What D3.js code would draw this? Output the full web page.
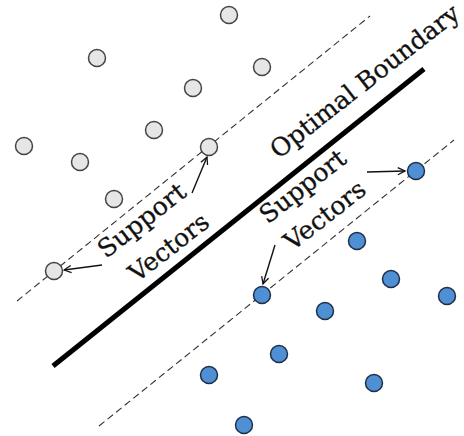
<!DOCTYPE html>
<html><head><meta charset="utf-8">
<script src="https://cdn.jsdelivr.net/npm/d3@7"></script>
<style>html,body{margin:0;padding:0;background:#fff;}svg{display:block;}</style>
</head><body>
<script>
// Data (schematic coordinates)
const classAx = [229, 97, 262, 193, 154, 24, 80, 209, 114, 54];
const classAy = [15, 58, 67, 88, 130, 146, 162, 147, 199, 271];
const classBx = [416, 357, 391, 447, 262, 325, 279, 209, 374, 244];
const classBy = [171, 241, 279, 296, 295, 311, 354, 375, 383, 425];
const lineNames = ["upperMargin", "boundary", "lowerMargin"];
const lineX1 = [17, 53, 99];
const lineY1 = [301, 366, 426];
const lineX2 = [370, 424, 454];
const lineY2 = [16, 69, 140];
const arrowX1 = [192, 102, 367, 275];
const arrowY1 = [193, 265, 172, 245];
const arrowX2 = [207, 64, 405, 263];
const arrowY2 = [157, 270, 171, 284];
const labelText = ["Optimal Boundary", "Support", "Vectors", "Support", "Vectors"];
const labelX = [370, 147, 174, 308, 330];
const labelY = [88, 227, 254, 193, 222];
const labelLen = [232, 104, 94, 102, 96];

const W = 464, H = 436;
const x = d3.scaleLinear().domain([0, 464]).range([0, W]);
const y = d3.scaleLinear().domain([0, 436]).range([0, H]);

const svg = d3.select("body").append("svg").attr("width", W).attr("height", H);

const defs = svg.append("defs");
defs.append("marker").attr("id", "ah").attr("viewBox", "0 0 10 10")
  .attr("refX", 9).attr("refY", 5).attr("markerWidth", 9).attr("markerHeight", 9)
  .attr("markerUnits", "userSpaceOnUse").attr("orient", "auto")
  .append("path").attr("d", "M1,1 L9,5 L1,9").attr("fill", "none")
  .attr("stroke", "#111").attr("stroke-width", 1.4);

// lines
svg.selectAll("line.sep").data(lineNames).enter().append("line")
  .attr("class", "sep")
  .attr("x1", (d, i) => x(lineX1[i])).attr("y1", (d, i) => y(lineY1[i]))
  .attr("x2", (d, i) => x(lineX2[i])).attr("y2", (d, i) => y(lineY2[i]))
  .attr("stroke", (d) => d === "boundary" ? "#000" : "#333")
  .attr("stroke-width", (d) => d === "boundary" ? 5 : 1.1)
  .attr("stroke-dasharray", (d) => d === "boundary" ? null : "7,4");

// points
const A = classAx.map((v, i) => ({x: v, y: classAy[i]}));
const B = classBx.map((v, i) => ({x: v, y: classBy[i]}));
svg.selectAll("circle.a").data(A).enter().append("circle")
  .attr("class", "a").attr("cx", d => x(d.x)).attr("cy", d => y(d.y)).attr("r", 8.5)
  .attr("fill", "#e6e6e6").attr("stroke", "#444").attr("stroke-width", 1.5);
svg.selectAll("circle.b").data(B).enter().append("circle")
  .attr("class", "b").attr("cx", d => x(d.x)).attr("cy", d => y(d.y)).attr("r", 8.5)
  .attr("fill", "#4f8fd4").attr("stroke", "#1f2f48").attr("stroke-width", 1.5);

// arrows
svg.selectAll("line.arrow").data(arrowX1).enter().append("line")
  .attr("class", "arrow")
  .attr("x1", (d, i) => x(arrowX1[i])).attr("y1", (d, i) => y(arrowY1[i]))
  .attr("x2", (d, i) => x(arrowX2[i])).attr("y2", (d, i) => y(arrowY2[i]))
  .attr("stroke", "#111").attr("stroke-width", 1.4).attr("marker-end", "url(#ah)");

// labels
const angle = -38;
svg.selectAll("text.lbl").data(labelText).enter().append("text")
  .attr("class", "lbl")
  .attr("transform", (d, i) => `translate(${x(labelX[i])},${y(labelY[i])}) rotate(${angle})`)
  .attr("text-anchor", "middle")
  .attr("font-family", "'DejaVu Serif', serif")
  .attr("font-size", 25)
  .attr("fill", "#111")
  .attr("stroke", "#111").attr("stroke-width", 0.3)
  .attr("textLength", (d, i) => labelLen[i])
  .attr("lengthAdjust", "spacingAndGlyphs")
  .text(d => d);
</script>
</body></html>
